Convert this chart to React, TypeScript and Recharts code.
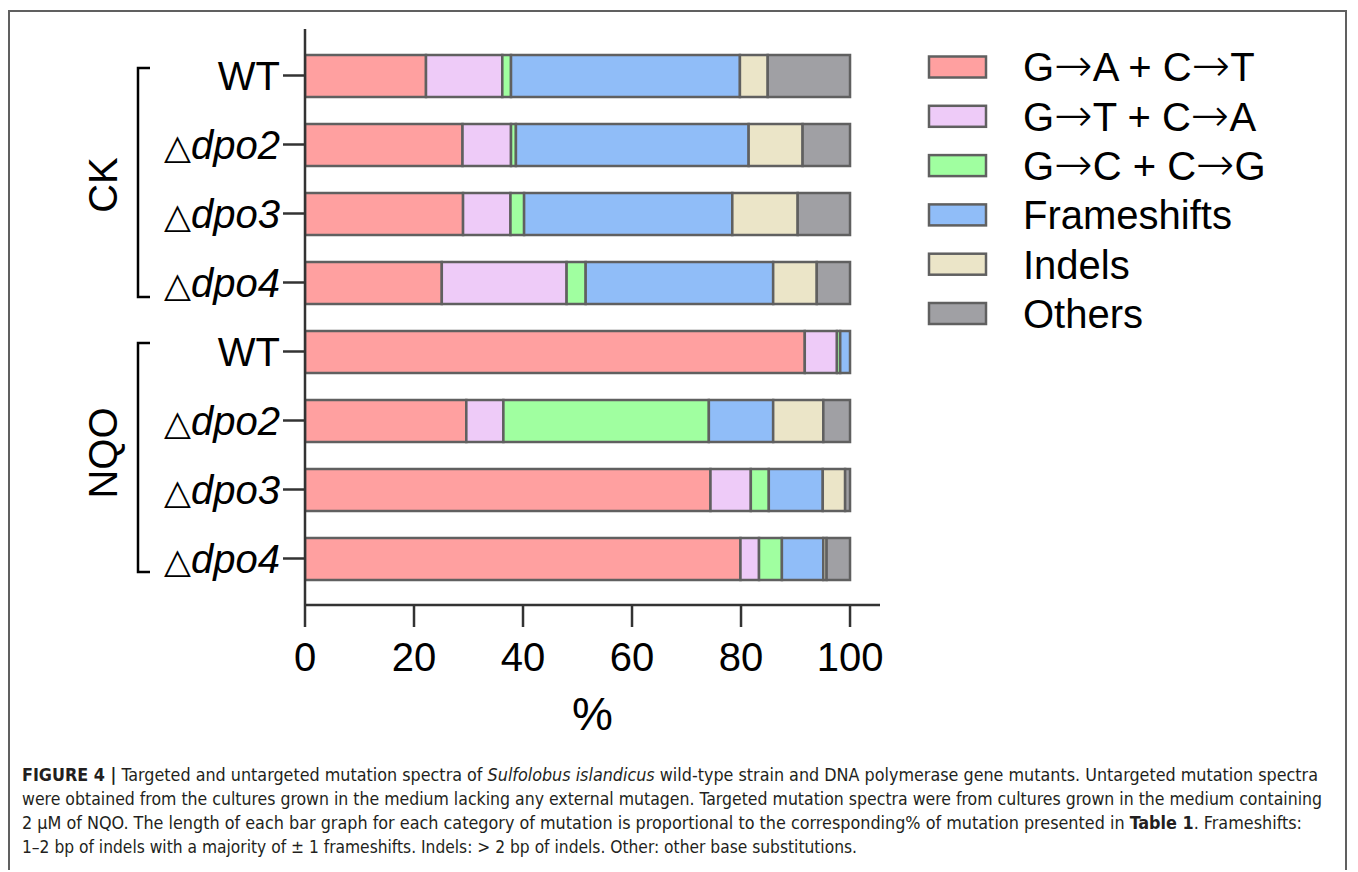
import React from 'react';
import { BarChart, Bar, XAxis, YAxis, Legend } from 'recharts';

const ROW_IDS = ['CK-WT', 'CK-dpo2', 'CK-dpo3', 'CK-dpo4', 'NQO-WT', 'NQO-dpo2', 'NQO-dpo3', 'NQO-dpo4'];
const ROW_LABELS = ['WT', '∆dpo2', '∆dpo3', '∆dpo4', 'WT', '∆dpo2', '∆dpo3', '∆dpo4'];

const GA_CT = [22.2, 28.9, 29.0, 25.1, 91.7, 29.6, 74.4, 79.9];
const GT_CA = [14.0, 8.9, 8.7, 22.9, 5.9, 6.8, 7.4, 3.4];
const GC_CG = [1.6, 0.9, 2.5, 3.5, 0.6, 37.7, 3.3, 4.2];
const FRAMESHIFTS = [42.0, 42.7, 38.2, 34.4, 1.8, 11.8, 9.9, 7.6];
const INDELS = [5.1, 9.9, 12.0, 8.0, 0, 9.2, 4.1, 0.6];
const OTHERS = [15.1, 8.7, 9.6, 6.1, 0, 4.9, 0.9, 4.3];

const X_TICKS = [0, 20, 40, 60, 80, 100];

const SERIES = [
  { key: 'gact', name: 'G→A + C→T', values: GA_CT, color: '#FFA0A0' },
  { key: 'gtca', name: 'G→T + C→A', values: GT_CA, color: '#EECBF8' },
  { key: 'gccg', name: 'G→C + C→G', values: GC_CG, color: '#A0FFA0' },
  { key: 'fs', name: 'Frameshifts', values: FRAMESHIFTS, color: '#90BDF8' },
  { key: 'indel', name: 'Indels', values: INDELS, color: '#EBE5C8' },
  { key: 'other', name: 'Others', values: OTHERS, color: '#A0A0A4' },
];

const data = ROW_IDS.map((id, i) => {
  const row: any = { id, label: ROW_LABELS[i] };
  SERIES.forEach((s) => {
    row[s.key] = s.values[i];
  });
  return row;
});

const FONT = "'Liberation Sans', Arial, Helvetica, sans-serif";
const EDGE = '#606060';
const AXIS = '#333333';

const YTick = (props: any) => {
  const { x, y, payload } = props;
  const idx = ROW_IDS.indexOf(payload.value);
  const lab = ROW_LABELS[idx] ?? '';
  const isDelta = lab.startsWith('∆');
  return (
    <text x={x} y={y} dy="0.36em" textAnchor="end" fontSize={40} fill="#000" fontFamily={FONT}>
      {isDelta ? (
        <>
          <tspan fontFamily="'DejaVu Sans', sans-serif" fontSize={35}>△</tspan>
          <tspan fontStyle="italic">{lab.slice(1)}</tspan>
        </>
      ) : (
        lab
      )}
    </text>
  );
};

const renderName = (name: string) => {
  const parts = name.split('→');
  const out: any[] = [];
  parts.forEach((p, i) => {
    if (i > 0) {
      out.push(
        <tspan key={'a' + i} fontFamily="'DejaVu Sans', sans-serif" fontWeight={200} fontSize={46}>
          →
        </tspan>
      );
    }
    out.push(<tspan key={'t' + i}>{p}</tspan>);
  });
  return out;
};

const LegendContent = () => (
  <svg width={430} height={320} style={{ display: 'block', overflow: 'visible' }}>
    {SERIES.map((s, i) => {
      const cy = 25 + i * 49.3;
      return (
        <g key={s.key}>
          <rect x={3} y={cy - 10.5} width={57} height={21} fill={s.color} stroke={EDGE} strokeWidth={2.5} />
          <text x={97} y={cy} dy="0.36em" fontSize={40} fill="#000" fontFamily={FONT}>
            {renderName(s.name)}
          </text>
        </g>
      );
    })}
  </svg>
);

const CAPTION_LEFT = 14;
const CAPTION_LINES = [
  { y: 773, len: 1296 },
  { y: 797, len: 1300 },
  { y: 821, len: 1280 },
  { y: 845, len: 835 },
];

export default function App() {
  return (
    <div style={{ position: 'relative', width: 1342, height: 862, fontFamily: FONT }}>
      <div
        style={{
          position: 'absolute',
          left: 0,
          top: 2,
          width: 1339,
          height: 870,
          borderTop: '2px solid #606060',
          borderLeft: '2px solid #606060',
          borderRight: '2px solid #606060',
          boxSizing: 'border-box',
        }}
      />
      <div style={{ position: 'absolute', left: 0, top: 0 }}>
        <BarChart
          width={1342}
          height={740}
          data={data}
          layout="vertical"
          margin={{ top: 21, right: 470, bottom: 18, left: 97 }}
        >
          <XAxis
            type="number"
            domain={[0, 105.5]}
            ticks={X_TICKS}
            allowDataOverflow
            height={125}
            tickSize={22}
            tickMargin={16}
            axisLine={{ stroke: AXIS, strokeWidth: 2.5 }}
            tickLine={{ stroke: AXIS, strokeWidth: 2.5 }}
            tick={{ fontSize: 40, fill: '#000', fontFamily: FONT }}
            label={{ value: '%', position: 'insideBottom', offset: 0, fontSize: 46, fill: '#000', fontFamily: FONT }}
          />
          <YAxis
            type="category"
            dataKey="id"
            width={200}
            padding={{ top: 12, bottom: 12 }}
            tickSize={22}
            tickMargin={3}
            axisLine={{ stroke: AXIS, strokeWidth: 2.5 }}
            tickLine={{ stroke: AXIS, strokeWidth: 2.5 }}
            tick={<YTick />}
            interval={0}
          />
          <Legend
            layout="vertical"
            align="center"
            verticalAlign="middle"
            content={<LegendContent />}
            wrapperStyle={{ position: 'absolute', left: 918, top: 34, width: 430, height: 320 }}
          />
          {SERIES.map((s) => (
            <Bar
              key={s.key}
              dataKey={s.key}
              name={s.name}
              stackId="a"
              fill={s.color}
              stroke={EDGE}
              strokeWidth={2.5}
              barSize={42}
              isAnimationActive={false}
            />
          ))}
        </BarChart>
      </div>
      <svg
        width={1342}
        height={862}
        style={{ position: 'absolute', left: 0, top: 0, pointerEvents: 'none' }}
      >
        <g fill="none" stroke="#000" strokeWidth={2.5}>
          <polyline points="142,60 130,60 130,289 142,289" />
          <polyline points="142,335 130,335 130,564 142,564" />
        </g>
        <text x={95} y={177} transform="rotate(-90 95 177)" textAnchor="middle" dy="0.36em" fontSize={40} fill="#000" fontFamily={FONT}>
          CK
        </text>
        <text x={95} y={445} transform="rotate(-90 95 445)" textAnchor="middle" dy="0.36em" fontSize={40} fill="#000" fontFamily={FONT}>
          NQO
        </text>
        <g fontFamily="'Liberation Sans Narrow', 'DejaVu Sans Condensed', sans-serif" fontSize={17} fill="#231f20">
          <text x={CAPTION_LEFT} y={CAPTION_LINES[0].y} textLength={CAPTION_LINES[0].len} lengthAdjust="spacingAndGlyphs">
            <tspan fontWeight="bold">FIGURE 4 |</tspan> Targeted and untargeted mutation spectra of{' '}
            <tspan fontStyle="italic">Sulfolobus islandicus</tspan> wild-type strain and DNA polymerase gene mutants. Untargeted mutation spectra
          </text>
          <text x={CAPTION_LEFT} y={CAPTION_LINES[1].y} textLength={CAPTION_LINES[1].len} lengthAdjust="spacingAndGlyphs">
            were obtained from the cultures grown in the medium lacking any external mutagen. Targeted mutation spectra were from cultures grown in the medium containing
          </text>
          <text x={CAPTION_LEFT} y={CAPTION_LINES[2].y} textLength={CAPTION_LINES[2].len} lengthAdjust="spacingAndGlyphs">
            2 μM of NQO. The length of each bar graph for each category of mutation is proportional to the corresponding% of mutation presented in{' '}
            <tspan fontWeight="bold">Table 1</tspan>. Frameshifts:
          </text>
          <text x={CAPTION_LEFT} y={CAPTION_LINES[3].y} textLength={CAPTION_LINES[3].len} lengthAdjust="spacingAndGlyphs">
            1–2 bp of indels with a majority of ± 1 frameshifts. Indels: &gt; 2 bp of indels. Other: other base substitutions.
          </text>
        </g>
      </svg>
    </div>
  );
}
